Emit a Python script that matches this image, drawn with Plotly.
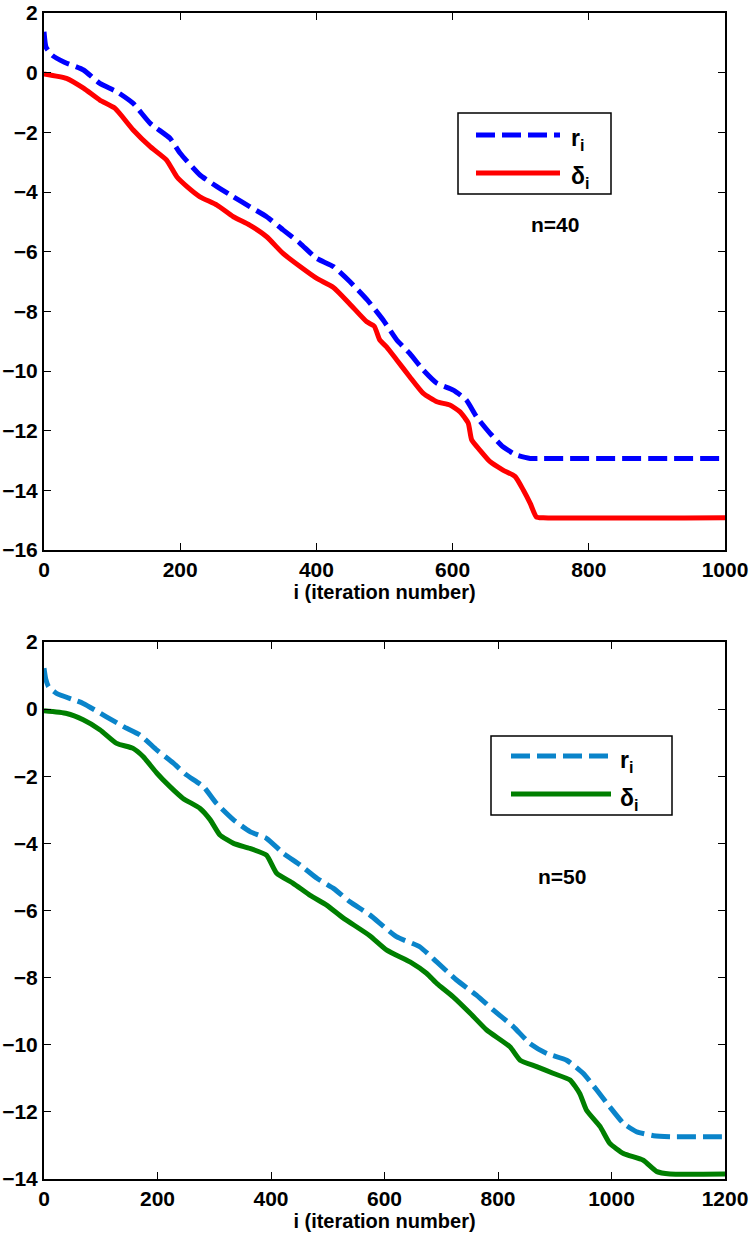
import plotly.graph_objects as go
from plotly.subplots import make_subplots

# ---------------- data: n=40 ----------------
x_r40 = [0, 3, 12, 30, 58, 82, 107, 131, 156, 185, 200, 229, 254, 278, 302, 327, 351, 376, 400,
         425, 449, 474, 498, 518, 537, 557, 577, 601, 620, 635, 655, 674, 694, 714, 730, 1000]
r40 = [1.37, 0.85, 0.58, 0.35, 0.09, -0.36, -0.64, -1.03, -1.70, -2.20, -2.70, -3.43, -3.82, -4.16,
       -4.49, -4.83, -5.27, -5.72, -6.22, -6.50, -7.0, -7.6, -8.29, -8.96, -9.41, -9.97, -10.41,
       -10.64, -10.97, -11.53, -12.09, -12.54, -12.82, -12.93, -12.93, -12.93]

x_d40 = [0, 33, 58, 82, 104, 131, 156, 180, 195, 210, 229, 254, 278, 302, 327, 351, 376, 400, 425,
         449, 474, 485, 493, 503, 518, 537, 557, 577, 596, 611, 623, 628, 640, 655, 674, 692, 704,
         714, 723, 733, 1000]
d40 = [-0.04, -0.19, -0.52, -0.92, -1.19, -1.92, -2.48, -2.93, -3.49, -3.82, -4.16, -4.44, -4.83,
       -5.11, -5.50, -6.06, -6.50, -6.89, -7.2, -7.75, -8.35, -8.5, -8.96, -9.19, -9.63, -10.19,
       -10.75, -11.03, -11.14, -11.37, -11.75, -12.31, -12.65, -13.04, -13.32, -13.54, -14.0,
       -14.44, -14.89, -14.92, -14.92]

# ---------------- data: n=50 ----------------
x_r50 = [0, 3, 8, 22, 69, 110, 140, 169, 199, 228, 251, 281, 304, 334, 363, 392, 422, 451, 481,
         510, 539, 574, 621, 662, 692, 727, 762, 792, 827, 856, 886, 921, 950, 974, 997, 1021,
         1044, 1074, 1103, 1200]
r50 = [1.22, 0.9, 0.67, 0.47, 0.17, -0.23, -0.52, -0.77, -1.22, -1.61, -1.96, -2.31, -2.81, -3.30,
       -3.65, -3.85, -4.30, -4.64, -5.04, -5.34, -5.74, -6.13, -6.78, -7.08, -7.53, -8.07, -8.52,
       -8.97, -9.46, -9.96, -10.26, -10.46, -10.85, -11.35, -11.85, -12.34, -12.59, -12.71,
       -12.74, -12.74]

x_d50 = [0, 40, 69, 99, 128, 157, 175, 199, 222, 245, 275, 293, 310, 334, 363, 392, 410, 439, 469,
         498, 527, 574, 604, 645, 674, 692, 721, 751, 780, 821, 839, 868, 897, 927, 944, 956, 980,
         997, 1021, 1056, 1080, 1103, 1200]
d50 = [-0.05, -0.13, -0.32, -0.62, -1.02, -1.17, -1.42, -1.91, -2.31, -2.66, -2.96, -3.30, -3.75,
       -4.0, -4.15, -4.35, -4.89, -5.19, -5.55, -5.84, -6.22, -6.75, -7.18, -7.53, -7.87, -8.17,
       -8.57, -9.06, -9.56, -10.06, -10.46, -10.65, -10.85, -11.05, -11.45, -11.95, -12.44,
       -12.94, -13.24, -13.44, -13.78, -13.85, -13.85]

xticks_top = [0, 200, 400, 600, 800, 1000]
yticks_top = [-16, -14, -12, -10, -8, -6, -4, -2, 0, 2]
xticks_bot = [0, 200, 400, 600, 800, 1000, 1200]
yticks_bot = [-14, -12, -10, -8, -6, -4, -2, 0, 2]
legend_labels = ["r<sub>i</sub>", "δ<sub>i</sub>"]
x_title = "i (iteration number)"

# ---------------- layout geometry (pixels) ----------------
W, H = 752, 1234
L, R, T, B = 44, 725, 13, 1179
PW, PH = R - L, B - T


def px(x):
    return (x - L) / PW


def py(y):
    return (B - y) / PH


FONT = "Liberation Sans, Arial, sans-serif"
DASH = "19px,7px"

fig = make_subplots(rows=2, cols=1)

fig.add_trace(go.Scatter(x=x_r40, y=r40, mode="lines", line=dict(color="#0000FF", width=5, dash=DASH,
                                                                   shape="spline", smoothing=0.5),
                         showlegend=False), row=1, col=1)
fig.add_trace(go.Scatter(x=x_d40, y=d40, mode="lines", line=dict(color="#FF0000", width=5,
                                                                   shape="spline", smoothing=0.5),
                         showlegend=False), row=1, col=1)
fig.add_trace(go.Scatter(x=x_r50, y=r50, mode="lines", line=dict(color="#0A84CA", width=5, dash=DASH,
                                                                   shape="spline", smoothing=0.5),
                         showlegend=False), row=2, col=1)
fig.add_trace(go.Scatter(x=x_d50, y=d50, mode="lines", line=dict(color="#007F00", width=5,
                                                                   shape="spline", smoothing=0.5),
                         showlegend=False), row=2, col=1)

axis_common = dict(
    showline=True, linecolor="black", linewidth=2, mirror="ticks",
    ticks="inside", ticklen=7, tickwidth=1, tickcolor="black",
    showgrid=False, zeroline=False,
    tickfont=dict(family=FONT, size=21, color="black", weight="bold"),
)

fig.update_xaxes(**axis_common)
fig.update_yaxes(**axis_common)

fig.update_layout(
    xaxis=dict(domain=[0, 1], range=[0, 1000], tickvals=xticks_top,
               title=dict(text=x_title, font=dict(family=FONT, size=20, color="black", weight="bold"),
                          standoff=5)),
    yaxis=dict(domain=[py(550), 1], range=[-16, 2], tickvals=yticks_top),
    xaxis2=dict(domain=[0, 1], range=[0, 1200], tickvals=xticks_bot,
                title=dict(text=x_title, font=dict(family=FONT, size=20, color="black", weight="bold"),
                           standoff=5)),
    yaxis2=dict(domain=[0, py(642)], range=[-14, 2], tickvals=yticks_bot),
)

# ---------------- legends (drawn as boxes) ----------------
shapes = []
annotations = []


def add_legend(box, y1, y2, lx0, lx1, tx, c1, c2):
    shapes.append(dict(type="rect", xref="paper", yref="paper",
                       x0=px(box[0]), x1=px(box[1]), y0=py(box[3]), y1=py(box[2]),
                       line=dict(color="black", width=1.5), fillcolor="white"))
    shapes.append(dict(type="line", xref="paper", yref="paper",
                       x0=px(lx0), x1=px(lx1), y0=py(y1), y1=py(y1),
                       line=dict(color=c1, width=5, dash=DASH)))
    shapes.append(dict(type="line", xref="paper", yref="paper",
                       x0=px(lx0), x1=px(lx1), y0=py(y2), y1=py(y2),
                       line=dict(color=c2, width=5)))
    for yy, lab in ((y1, legend_labels[0]), (y2, legend_labels[1])):
        annotations.append(dict(xref="paper", yref="paper", x=px(tx), y=py(yy + 5),
                                xanchor="left", yanchor="middle", showarrow=False,
                                text="<b>" + lab + "</b>",
                                font=dict(family=FONT, size=23, color="black")))


add_legend((458, 611, 113, 194), 135, 173, 476, 560, 569, "#0000FF", "#FF0000")
add_legend((491, 672, 736, 815), 756, 794, 511, 611, 618, "#0A84CA", "#007F00")

annotations.append(dict(xref="paper", yref="paper", x=px(555), y=py(225), showarrow=False,
                        xanchor="center", yanchor="middle",
                        text="<b>n=40</b>", font=dict(family=FONT, size=21, color="black")))
annotations.append(dict(xref="paper", yref="paper", x=px(562), y=py(876), showarrow=False,
                        xanchor="center", yanchor="middle",
                        text="<b>n=50</b>", font=dict(family=FONT, size=21, color="black")))

fig.update_layout(
    width=W, height=H,
    margin=dict(l=L, r=W - R, t=T, b=H - B, autoexpand=False),
    paper_bgcolor="white", plot_bgcolor="white",
    shapes=shapes, annotations=annotations,
    showlegend=False,
)

fig.write_html("out.html")
